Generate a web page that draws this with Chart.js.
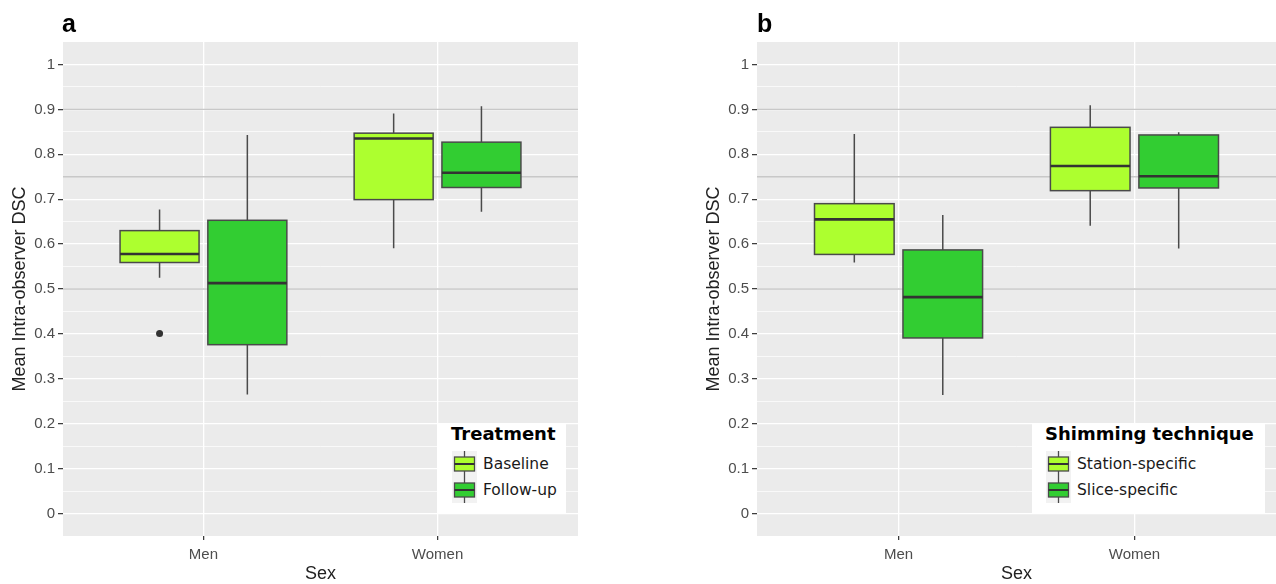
<!DOCTYPE html>
<html lang="en">
<head>
<meta charset="utf-8">
<title>Mean Intra-observer DSC</title>
<script src="https://cdn.jsdelivr.net/npm/chart.js@4.4.1/dist/chart.umd.min.js"></script>
<style>
    html, body { margin: 0; padding: 0; background: #ffffff; }
    body { width: 1276px; height: 584px; position: relative; overflow: hidden; }
    .panel { position: absolute; top: 0; width: 638px; height: 584px; }
    .panel canvas { position: absolute; left: 0; top: 0; }
    .panel-letter { position: absolute; top: 9px; line-height: 25px; font: bold 25px "Liberation Sans", Arial, sans-serif; color: #000; }
    .legend { position: absolute; top: 423px; height: 91px; background: #ffffff; font-family: "DejaVu Sans", sans-serif; color: #1a1a1a; }
    .legend-title { position: absolute; left: 13px; top: 1px; font-weight: bold; font-size: 18px; line-height: 20px; color: #000; white-space: nowrap; }
    .legend-row { position: absolute; left: 14px; height: 26px; display: flex; align-items: center; white-space: nowrap; }
    .legend-row svg { display: block; margin-right: 6px; }
    .legend-row span { font-size: 15.5px; }
</style>
</head>
<body>
<div class="panel" id="panel-a" style="left:0px">
    <canvas id="chart-a" width="638" height="584"></canvas>
    <div class="panel-letter" style="left:62px">a</div>
    <div class="legend" id="legend-a" style="left:438px; width:128px"></div>
</div>
<div class="panel" id="panel-b" style="left:638px">
    <canvas id="chart-b" width="638" height="584"></canvas>
    <div class="panel-letter" style="left:119px">b</div>
    <div class="legend" id="legend-b" style="left:394px; width:233px"></div>
</div>
<script>
// Catégories et graduations
const categories = ['Men', 'Women'];
const yTickValues = [0, 0.1, 0.2, 0.3, 0.4, 0.5, 0.6, 0.7, 0.8, 0.9, 1];
const yTickLabels = ['0', '0.1', '0.2', '0.3', '0.4', '0.5', '0.6', '0.7', '0.8', '0.9', '1'];
const yMinorValues = [0.05, 0.15, 0.25, 0.35, 0.45, 0.55, 0.65, 0.75, 0.85, 0.95];
const referenceLines = [0.5, 0.75, 0.9];

// Panneau a : [moustache basse, Q1, médiane, Q3, moustache haute] par catégorie
const treatmentLabels = ['Baseline', 'Follow-up'];
const baselineStats = [[0.525, 0.559, 0.578, 0.630, 0.677], [0.591, 0.699, 0.835, 0.847, 0.891]];
const followUpStats = [[0.265, 0.376, 0.513, 0.653, 0.843], [0.672, 0.726, 0.759, 0.827, 0.907]];
const baselineOutliers = [[0.401], []];
const followUpOutliers = [[], []];

// Panneau b
const techniqueLabels = ['Station-specific', 'Slice-specific'];
const stationStats = [[0.559, 0.577, 0.655, 0.690, 0.845], [0.641, 0.719, 0.774, 0.860, 0.909]];
const sliceStats = [[0.264, 0.391, 0.482, 0.587, 0.665], [0.590, 0.725, 0.751, 0.843, 0.849]];
const stationOutliers = [[], []];
const sliceOutliers = [[], []];

const seriesColors = ['#ADFF2F', '#32CD32'];

const DODGE = 0.375;      // décalage entre les boîtes d'une même catégorie
const BOX_WIDTH = 0.3375; // largeur d'une boîte (unités de catégorie)

// Position x d'une boîte (catégorie c, série i)
function boxCenter(c, i, n) {
    return c + 1 + (i - (n - 1) / 2) * DODGE;
}

function isMajor(v) {
    return yTickValues.some(t => Math.abs(t - v) < 1e-9);
}

// Plugin pour dessiner fond, lignes de référence et boîtes à moustaches
const boxplotPlugin = {
    id: 'boxplot',
    beforeDraw(chart) {
        const { ctx, chartArea: a } = chart;
        ctx.save();
        ctx.fillStyle = '#EBEBEB';
        ctx.fillRect(a.left, a.top, a.width, a.height);
        ctx.restore();
    },
    beforeDatasetsDraw(chart, args, opts) {
        const { ctx, chartArea: a, scales: { x, y } } = chart;
        ctx.save();
        ctx.beginPath();
        ctx.rect(a.left, a.top, a.width, a.height);
        ctx.clip();

        // Lignes horizontales de référence
        ctx.strokeStyle = '#C8C8C8';
        ctx.lineWidth = 1.4;
        referenceLines.forEach(v => {
            const py = y.getPixelForValue(v);
            ctx.beginPath();
            ctx.moveTo(a.left, py);
            ctx.lineTo(a.right, py);
            ctx.stroke();
        });

        const n = opts.series.length;
        opts.series.forEach((s, i) => {
            s.stats.forEach((st, c) => {
                const cx = boxCenter(c, i, n);
                const xl = x.getPixelForValue(cx - BOX_WIDTH / 2);
                const xr = x.getPixelForValue(cx + BOX_WIDTH / 2);
                const xc = x.getPixelForValue(cx);
                const [lo, q1, med, q3, hi] = st.map(v => y.getPixelForValue(v));

                // Moustaches
                ctx.strokeStyle = '#4A4A4A';
                ctx.lineWidth = 1.5;
                ctx.beginPath();
                ctx.moveTo(xc, hi);
                ctx.lineTo(xc, q3);
                ctx.moveTo(xc, q1);
                ctx.lineTo(xc, lo);
                ctx.stroke();

                // Boîte
                ctx.fillStyle = s.color;
                ctx.fillRect(xl, q3, xr - xl, q1 - q3);
                ctx.strokeStyle = '#4A4A4A';
                ctx.lineWidth = 1.5;
                ctx.strokeRect(xl, q3, xr - xl, q1 - q3);

                // Médiane
                ctx.strokeStyle = '#333333';
                ctx.lineWidth = 2.6;
                ctx.beginPath();
                ctx.moveTo(xl, med);
                ctx.lineTo(xr, med);
                ctx.stroke();
            });
        });
        ctx.restore();
    }
};

// Fonction pour créer un graphique en boîtes
function createBoxChart(canvasId, seriesStats, seriesOutliers, padLeft, padRight) {
    const ctx = document.getElementById(canvasId).getContext('2d');
    const n = seriesStats.length;

    // Points aberrants
    const outlierPoints = [];
    seriesOutliers.forEach((perCat, i) => {
        perCat.forEach((vals, c) => {
            vals.forEach(v => outlierPoints.push({ x: boxCenter(c, i, n), y: v }));
        });
    });

    const tickFont = { family: '"Liberation Sans", Arial, sans-serif', size: 15 };
    const titleFont = { family: '"Liberation Sans", Arial, sans-serif', size: 18, lineHeight: 1.1 };

    return new Chart(ctx, {
        type: 'scatter',
        data: {
            datasets: [{
                label: 'outliers',
                data: outlierPoints,
                pointRadius: 3.5,
                pointHoverRadius: 3.5,
                backgroundColor: '#333333',
                borderWidth: 0
            }]
        },
        plugins: [boxplotPlugin],
        options: {
            responsive: false,
            animation: false,
            events: [],
            layout: { padding: { left: padLeft, right: padRight, top: 42, bottom: 0 } },
            plugins: {
                legend: { display: false },
                tooltip: { enabled: false },
                boxplot: {
                    series: seriesStats.map((stats, i) => ({ stats: stats, color: seriesColors[i] }))
                }
            },
            scales: {
                x: {
                    type: 'linear',
                    min: 0.4,
                    max: 2.6,
                    afterBuildTicks: scale => {
                        scale.ticks = categories.map((_, i) => ({ value: i + 1 }));
                    },
                    afterFit: scale => { scale.height = 48; },
                    ticks: {
                        callback: v => categories[Math.round(v) - 1],
                        color: '#4D4D4D',
                        font: tickFont,
                        padding: 6,
                        autoSkip: false,
                        maxRotation: 0
                    },
                    grid: {
                        color: '#FFFFFF',
                        lineWidth: 1.3,
                        tickColor: '#333333',
                        tickLength: 4,
                        tickWidth: 1.2
                    },
                    border: { display: false },
                    title: {
                        display: true,
                        text: 'Sex',
                        color: '#222222',
                        font: titleFont,
                        padding: { top: 0, bottom: 0 }
                    }
                },
                y: {
                    type: 'linear',
                    min: -0.05,
                    max: 1.05,
                    afterBuildTicks: scale => {
                        scale.ticks = [...yTickValues, ...yMinorValues]
                            .sort((p, q) => p - q)
                            .map(v => ({ value: v }));
                    },
                    afterFit: scale => { scale.width = 63; },
                    ticks: {
                        callback: v => {
                            const k = yTickValues.findIndex(t => Math.abs(t - v) < 1e-9);
                            return k >= 0 ? yTickLabels[k] : '';
                        },
                        color: '#4D4D4D',
                        font: tickFont,
                        padding: 3,
                        autoSkip: false
                    },
                    grid: {
                        color: '#FFFFFF',
                        lineWidth: c => (c.tick && isMajor(c.tick.value)) ? 1.3 : 0.7,
                        tickColor: c => (c.tick && isMajor(c.tick.value)) ? '#333333' : 'rgba(0,0,0,0)',
                        tickLength: 5,
                        tickWidth: 1.2
                    },
                    border: { display: false },
                    title: {
                        display: true,
                        text: 'Mean Intra-observer DSC',
                        color: '#222222',
                        font: titleFont,
                        padding: { top: 10, bottom: 0 }
                    }
                }
            }
        }
    });
}

// Légende façon ggplot (clé en forme de boîte)
function keySvg(color) {
    return '<svg width="25" height="26" viewBox="0 0 25 26">' +
        '<rect x="0" y="0" width="25" height="26" fill="#F2F2F2"/>' +
        '<line x1="12.5" y1="0" x2="12.5" y2="6" stroke="#4A4A4A" stroke-width="1.3"/>' +
        '<line x1="12.5" y1="20" x2="12.5" y2="26" stroke="#4A4A4A" stroke-width="1.3"/>' +
        '<rect x="2.5" y="6" width="20" height="14" fill="' + color + '" stroke="#4A4A4A" stroke-width="1.3"/>' +
        '<line x1="2.5" y1="13" x2="22.5" y2="13" stroke="#333333" stroke-width="2"/>' +
        '</svg>';
}

function buildLegend(containerId, title, labels) {
    const el = document.getElementById(containerId);
    let html = '<div class="legend-title">' + title + '</div>';
    labels.forEach((lab, i) => {
        html += '<div class="legend-row" style="top:' + (28 + i * 26) + 'px">' +
            keySvg(seriesColors[i]) + '<span>' + lab + '</span></div>';
    });
    el.innerHTML = html;
}

createBoxChart('chart-a', [baselineStats, followUpStats], [baselineOutliers, followUpOutliers], 0, 60);
createBoxChart('chart-b', [stationStats, sliceStats], [stationOutliers, sliceOutliers], 56, 0);

buildLegend('legend-a', 'Treatment', treatmentLabels);
buildLegend('legend-b', 'Shimming technique', techniqueLabels);
</script>
</body>
</html>
